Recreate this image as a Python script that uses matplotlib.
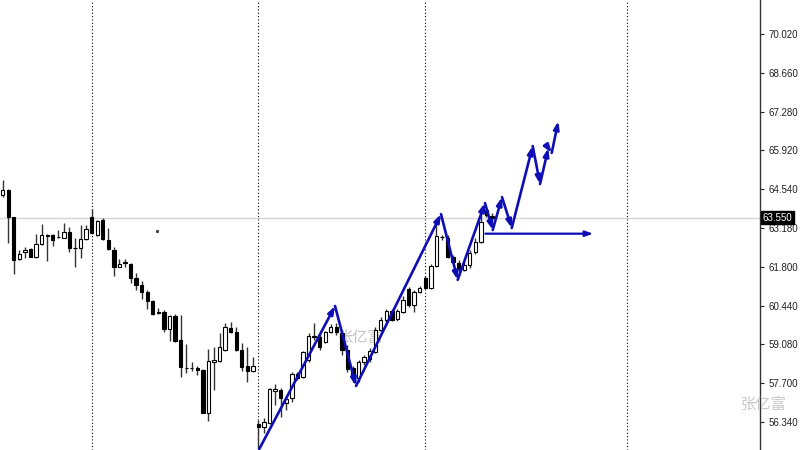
import matplotlib
matplotlib.use("Agg")
import matplotlib.pyplot as plt
import numpy as np

# OHLC (one bar per slot)
opens = [64.34, 64.52, 63.57, 62.09, 62.34, 62.44, 62.16, 62.62, 62.93, 62.93,
         62.86, 62.83, 63.04, 62.46, 62.48, 62.79, 63.57, 62.93, 63.46, 62.76,
         62.41, 61.81, 61.97, 61.91, 61.42, 61.17, 60.93, 60.61, 60.22, 60.22,
         59.62, 60.08, 59.23, 58.26, 58.26, 58.24, 58.17, 56.66, 58.46, 58.49,
         58.88, 59.66, 59.51, 58.88, 58.31, 58.14, 56.27, 56.16, 56.31, 57.43,
         57.47, 57.01, 57.19, 58.03, 57.93, 58.53, 59.36, 59.34, 59.16, 59.51,
         59.69, 59.48, 58.88, 58.24, 57.89, 58.46, 58.56, 58.81, 59.58, 59.94,
         60.25, 59.97, 60.22, 61.03, 60.47, 60.93, 61.42, 61.07, 61.84, 62.88,
         62.83, 62.16, 61.95, 61.70, 61.88, 62.34, 62.69, 63.81, 63.62]
highs = [64.87, 64.55, 63.57, 62.41, 62.51, 62.48, 62.97, 63.32, 62.97, 62.97,
         63.11, 63.36, 63.22, 62.83, 63.29, 63.29, 63.85, 63.46, 63.53, 63.18,
         62.51, 62.09, 62.09, 61.95, 61.59, 61.31, 61.00, 60.64, 60.36, 60.29,
         60.11, 60.15, 60.11, 59.09, 58.46, 58.31, 58.21, 58.91, 58.99, 59.48,
         59.83, 59.87, 59.69, 59.13, 58.99, 58.63, 56.41, 56.48, 57.54, 57.68,
         57.54, 57.26, 58.10, 58.10, 58.84, 59.48, 59.83, 59.44, 59.55, 59.80,
         59.83, 59.55, 59.06, 58.31, 58.53, 58.70, 58.95, 59.69, 60.04, 60.33,
         60.33, 60.33, 60.78, 61.10, 61.00, 61.14, 61.49, 61.91, 63.46, 62.93,
         62.93, 62.23, 62.05, 61.98, 62.41, 62.83, 63.88, 63.88, 63.71]
lows = [64.27, 62.65, 61.56, 62.05, 62.12, 62.16, 62.12, 62.58, 62.02, 62.55,
        62.83, 62.82, 62.34, 61.81, 62.12, 62.76, 62.97, 62.90, 62.76, 62.41,
        61.49, 61.80, 61.81, 61.24, 61.00, 60.68, 60.33, 60.11, 60.15, 59.51,
        59.20, 59.16, 57.93, 58.07, 58.14, 58.00, 56.64, 56.38, 57.47, 58.46,
        58.84, 59.48, 58.84, 58.14, 57.75, 58.10, 55.40, 55.95, 56.27, 56.94,
        56.52, 56.76, 57.05, 57.82, 57.89, 58.46, 59.23, 58.88, 59.13, 59.48,
        59.41, 58.70, 58.10, 57.75, 57.75, 58.35, 58.46, 58.77, 59.55, 59.87,
        59.90, 59.90, 60.18, 60.40, 60.22, 60.89, 61.03, 61.03, 61.81, 62.76,
        62.12, 61.91, 61.63, 61.67, 61.77, 62.26, 62.65, 63.57, 63.53]
closes = [64.52, 63.57, 62.05, 62.26, 62.41, 62.16, 62.62, 62.93, 62.90, 62.76,
          62.85, 63.04, 62.48, 62.49, 62.79, 63.15, 63.00, 63.43, 62.79, 62.44,
          61.81, 61.91, 61.93, 61.42, 61.17, 60.93, 60.61, 60.15, 60.20, 59.62,
          60.08, 59.20, 58.28, 58.24, 58.23, 58.17, 56.66, 58.49, 58.53, 58.99,
          59.69, 59.51, 58.88, 58.28, 58.14, 58.31, 56.16, 56.34, 57.50, 57.50,
          57.19, 57.15, 58.03, 57.89, 58.81, 59.37, 59.32, 58.99, 59.51, 59.69,
          59.51, 58.88, 58.21, 57.93, 58.46, 58.63, 58.84, 59.58, 59.94, 60.25,
          59.94, 60.25, 60.64, 60.47, 60.93, 61.07, 61.07, 61.84, 62.90, 62.85,
          62.16, 61.98, 61.74, 61.88, 62.30, 62.69, 63.39, 63.64, 63.55]

# hand-drawn forecast arrows: (bar index, price) vertices
path_x = [46.15, 59.77, 63.54, 78.83, 81.83, 86.74, 88.13, 89.80, 91.55,
          95.32, 96.64, 98.13, 98.74, 99.93]
path_y = [55.39, 60.43, 57.61, 63.67, 61.35, 64.06, 63.11, 64.27, 63.18,
          66.07, 64.73, 66.00, 65.83, 66.95]
flat_x = [86.8, 106.2]
flat_y = [62.98, 62.98]

separators = [16.05, 45.9, 75.95, 112.3]
price_ticks = [70.02, 68.66, 67.28, 65.92, 64.54, 63.18, 61.80, 60.44, 59.08, 57.70, 56.34]
last_price = 63.55

blue = '#0e0eb4'
head = '-|>,head_length=0.45,head_width=0.16'

fig = plt.figure(figsize=(8, 4.5), dpi=100)
ax = fig.add_axes([0, 0, 0.95, 1])

o = np.array(opens)
h = np.array(highs)
l = np.array(lows)
c = np.array(closes)
idx = np.arange(len(o))
up = c >= o

# period separators and current price line
for s in separators:
    ax.axvline(s, color='black', lw=0.8, ls=(0, (1, 2)), zorder=1)
ax.axhline(last_price, color='#d4d4d4', lw=1.0, zorder=1)

# watermark in the chart
ax.text(64.3, 59.34, '张亿富', fontsize=11, color='#c4c4c4',
        family=['Noto Sans CJK SC', 'DejaVu Sans'], ha='center', va='center', zorder=2)

# candles
ax.vlines(idx, l, h, color='#333333', lw=1.0, zorder=3)
body_lo = np.minimum(o, c)
body_h = np.maximum(np.abs(c - o), 0.02)
ax.bar(idx[up], body_h[up], bottom=body_lo[up], width=0.6,
       color='white', edgecolor='black', lw=0.8, zorder=4)
ax.bar(idx[~up], body_h[~up], bottom=body_lo[~up], width=0.6,
       color='black', edgecolor='black', lw=0.8, zorder=4)
ax.plot([27.8], [63.08], marker='s', ms=1.2, color='#444444', zorder=4)

# arrows
for i in range(len(path_x) - 1):
    ax.annotate('', xy=(path_x[i + 1], path_y[i + 1]), xytext=(path_x[i], path_y[i]),
                arrowprops=dict(arrowstyle=head, color=blue, lw=1.9,
                                shrinkA=0, shrinkB=0),
                zorder=6)
ax.annotate('', xy=(flat_x[1], flat_y[1]), xytext=(flat_x[0], flat_y[0]),
            arrowprops=dict(arrowstyle=head, color=blue, lw=1.6,
                            shrinkA=0, shrinkB=0),
            zorder=6)

ax.set_xlim(-0.486, 136.2)
ax.set_ylim(55.353, 71.219)

for side in ['top', 'left', 'bottom']:
    ax.spines[side].set_visible(False)
ax.spines['right'].set_color('#333333')
ax.spines['right'].set_linewidth(1.0)
ax.set_xticks([])
ax.yaxis.tick_right()
ax.set_yticks(price_ticks)
ax.set_yticklabels([f'{t:.3f}' for t in price_ticks])
ax.tick_params(axis='y', length=3, width=0.8, pad=3, labelsize=7, colors='#222222')
for lab in ax.get_yticklabels():
    lab.set_family('Liberation Sans')

# current price tag on the scale
ax.annotate(f'{last_price:.3f}', xy=(1.0, last_price), xycoords=('axes fraction', 'data'),
            xytext=(2, 0), textcoords='offset points', ha='left', va='center',
            fontsize=7, family='Liberation Sans', color='white',
            bbox=dict(boxstyle='square,pad=0.15', fc='black', ec='black'),
            annotation_clip=False, zorder=10)

fig.text(764 / 800, 1 - 404 / 450, '张亿富', fontsize=11, color='#c8c8c8',
         family=['Noto Sans CJK SC', 'DejaVu Sans'], ha='center', va='center')

fig.savefig('out.png', dpi=100)
